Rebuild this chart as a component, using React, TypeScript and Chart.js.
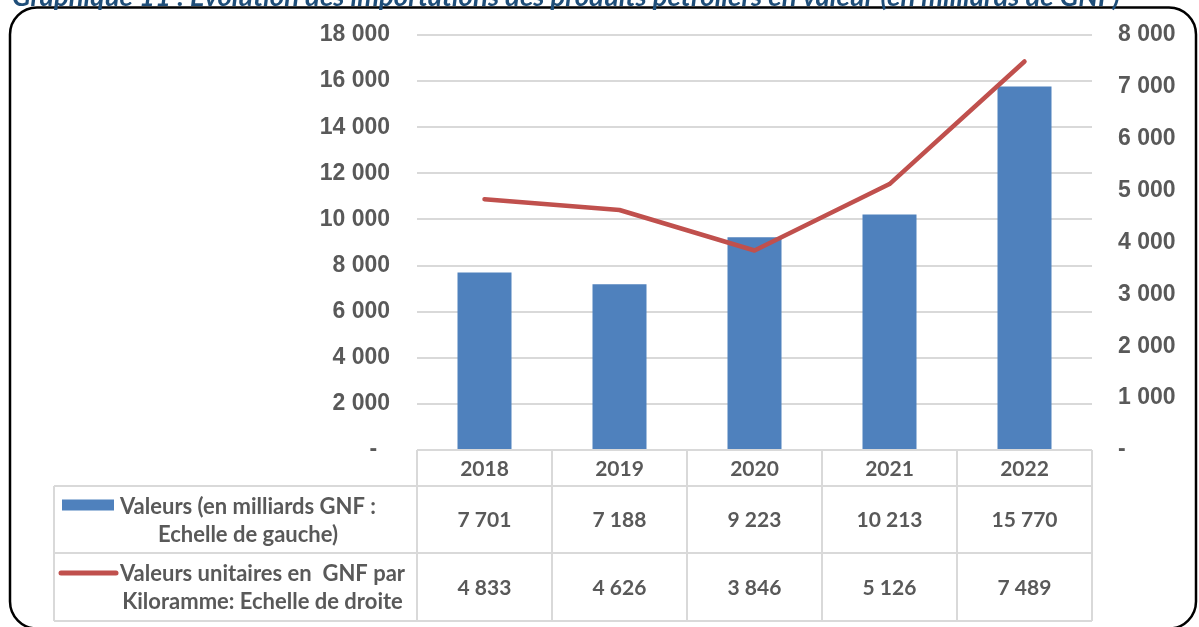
import React, { useEffect, useRef } from 'react';
import { Chart, registerables } from 'chart.js';

Chart.register(...registerables);

const TITLE = 'Graphique 11 : Evolution des importations des produits pétroliers en valeur (en milliards de GNF)';
const YEARS = ['2018', '2019', '2020', '2021', '2022'];
const VALUES = [7701, 7188, 9223, 10213, 15770];
const UNIT_VALUES = [4833, 4626, 3846, 5126, 7489];
const SERIES1_LABEL = ['Valeurs (en milliards GNF :', 'Echelle de gauche)'];
const SERIES2_LABEL = ['Valeurs unitaires en  GNF par', 'Kiloramme: Echelle de droite'];
const LEFT_MAX = 18000;
const LEFT_STEP = 2000;
const RIGHT_MAX = 8000;
const RIGHT_STEP = 1000;

const BAR_COLOR = '#4F81BD';
const LINE_COLOR = '#C0504D';
const TEXT_COLOR = '#595959';
const GRID_COLOR = '#D9D9D9';
const TITLE_COLOR = '#1F4E79';

const fmt = (v: number) => String(v).replace(/\B(?=(\d{3})+(?!\d))/g, ' ');

const TABLE_FONT = 'bold 21px Lato';
const LEGEND_FONT = 'bold 22px Lato';

const decor = {
  id: 'decor',
  beforeDraw(chart: any) {
    const ctx = chart.ctx as CanvasRenderingContext2D;
    ctx.save();
    ctx.fillStyle = '#ffffff';
    ctx.fillRect(0, 0, chart.width, chart.height);
    ctx.beginPath();
    (ctx as any).roundRect(10, 7.5, 1186, 621, 27);
    ctx.lineWidth = 2.5;
    ctx.strokeStyle = '#000000';
    ctx.stroke();
    ctx.font = 'italic bold 27.5px Lato';
    ctx.fillStyle = TITLE_COLOR;
    ctx.textAlign = 'left';
    ctx.textBaseline = 'alphabetic';
    ctx.fillText(TITLE, 12, 6);
    ctx.restore();
  },
  afterDraw(chart: any) {
    const ctx = chart.ctx as CanvasRenderingContext2D;
    const x = chart.scales.x;
    const n = YEARS.length;
    const colW = x.width / n;
    const left = x.left;
    const right = x.right;
    const legendLeft = 54;
    const yTop = chart.chartArea.bottom;
    const yH = yTop + 36;
    const yR1 = yH + 67;
    const yR2 = yR1 + 68;
    ctx.save();
    ctx.strokeStyle = GRID_COLOR;
    ctx.lineWidth = 2;
    ctx.beginPath();
    ctx.moveTo(left, yTop); ctx.lineTo(right, yTop);
    ctx.moveTo(legendLeft, yH); ctx.lineTo(right, yH);
    ctx.moveTo(legendLeft, yR1); ctx.lineTo(right, yR1);
    ctx.moveTo(legendLeft, yR2); ctx.lineTo(right, yR2);
    for (let i = 0; i <= n; i++) {
      const bx = left + i * colW;
      ctx.moveTo(bx, yTop); ctx.lineTo(bx, yR2);
    }
    ctx.moveTo(legendLeft, yH); ctx.lineTo(legendLeft, yR2);
    ctx.stroke();

    ctx.fillStyle = TEXT_COLOR;
    ctx.textAlign = 'center';
    ctx.textBaseline = 'middle';
    ctx.font = TABLE_FONT;
    for (let i = 0; i < n; i++) {
      const cx = x.getPixelForValue(i);
      ctx.fillText(YEARS[i], cx, (yTop + yH) / 2 + 1);
      ctx.fillText(fmt(VALUES[i]), cx, (yH + yR1) / 2 + 1);
      ctx.fillText(fmt(UNIT_VALUES[i]), cx, (yR1 + yR2) / 2 + 1);
    }

    // legend keys
    const r1c = (yH + yR1) / 2;
    const r2c = (yR1 + yR2) / 2;
    const lh = 28;
    ctx.fillStyle = BAR_COLOR;
    ctx.fillRect(62, r1c - lh / 2 - 6, 52, 11);
    ctx.strokeStyle = LINE_COLOR;
    ctx.lineWidth = 5;
    ctx.lineCap = 'round';
    ctx.beginPath();
    ctx.moveTo(61, r2c - lh / 2);
    ctx.lineTo(116, r2c - lh / 2);
    ctx.stroke();

    ctx.font = LEGEND_FONT;
    ctx.fillStyle = TEXT_COLOR;
    const drawBlock = (lines: string[], cy: number) => {
      const w = Math.max(...lines.map((l) => ctx.measureText(l).width));
      const cx = 120 + w / 2;
      lines.forEach((l, k) => {
        ctx.fillText(l, cx, cy + (k - (lines.length - 1) / 2) * lh + 1);
      });
    };
    drawBlock(SERIES1_LABEL, r1c);
    drawBlock(SERIES2_LABEL, r2c);
    ctx.restore();
  },
};

export default function App() {
  const ref = useRef<HTMLCanvasElement | null>(null);
  useEffect(() => {
    if (!ref.current) return;
    const tickFont = { family: '"Liberation Sans", Arial, sans-serif', size: 23, weight: 'bold' as const };
    const chart = new Chart(ref.current, {
      data: {
        labels: YEARS,
        datasets: [
          {
            type: 'line',
            label: SERIES2_LABEL.join(' '),
            data: UNIT_VALUES,
            yAxisID: 'y1',
            borderColor: LINE_COLOR,
            borderWidth: 4.5,
            pointRadius: 0,
            borderCapStyle: 'round',
            borderJoinStyle: 'round',
            tension: 0,
            order: 0,
          } as any,
          {
            type: 'bar',
            label: SERIES1_LABEL.join(' '),
            data: VALUES,
            yAxisID: 'y',
            backgroundColor: BAR_COLOR,
            barPercentage: 0.4,
            categoryPercentage: 1,
            order: 1,
          } as any,
        ],
      },
      options: {
        animation: false,
        responsive: false,
        devicePixelRatio: 1,
        layout: { padding: { top: 35, bottom: 177, left: 0, right: 0 } },
        plugins: { legend: { display: false }, tooltip: { enabled: false }, title: { display: false } },
        scales: {
          x: { display: false, offset: true },
          y: {
            position: 'left',
            min: 0,
            max: LEFT_MAX,
            ticks: {
              stepSize: LEFT_STEP,
              padding: 27,
              color: TEXT_COLOR,
              font: tickFont,
              callback: (v: any) => (Number(v) === 0 ? '-  ' : fmt(Number(v))),
            },
            grid: { color: GRID_COLOR, lineWidth: 2, drawTicks: false },
            border: { display: false },
            afterFit(s: any) { s.width = 417; s.paddingTop = 0; s.paddingBottom = 0; },
          },
          y1: {
            position: 'right',
            min: 0,
            max: RIGHT_MAX,
            ticks: {
              stepSize: RIGHT_STEP,
              padding: 26,
              color: TEXT_COLOR,
              font: tickFont,
              callback: (v: any) => (Number(v) === 0 ? '-' : fmt(Number(v))),
            },
            grid: { display: false, drawTicks: false },
            border: { display: false },
            afterFit(s: any) { s.width = 107; s.paddingTop = 0; s.paddingBottom = 0; },
          },
        },
      } as any,
      plugins: [decor],
    });
    return () => chart.destroy();
  }, []);
  return (
    <canvas
      ref={ref}
      width={1199}
      height={627}
      style={{ position: 'fixed', left: 0, top: 0, width: 1199, height: 627, display: 'block' }}
    />
  );
}
